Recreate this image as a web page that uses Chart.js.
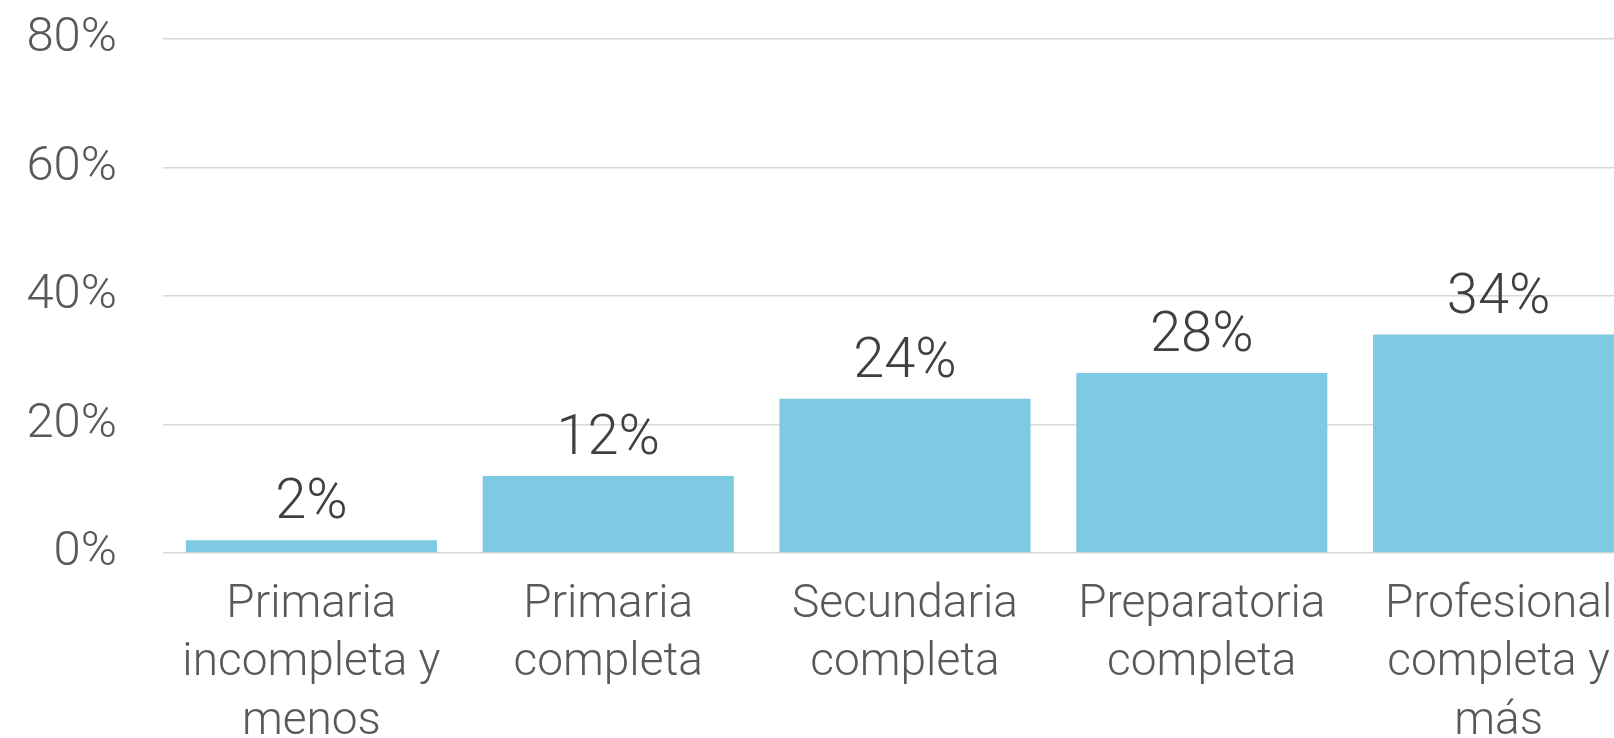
<!DOCTYPE html>
<html>
<head>
<meta charset="utf-8">
<script src="https://cdn.jsdelivr.net/npm/chart.js@4/dist/chart.umd.min.js"></script>
<style>
  html, body { margin: 0; padding: 0; background: #ffffff; overflow: hidden; }
  #wrap { position: absolute; left: 0; top: 0; width: 1647px; height: 738px; }
</style>
</head>
<body>
<div id="wrap"><canvas id="c"></canvas></div>
<script>
const categories = [
  ['Primaria', 'incompleta y', 'menos'],
  ['Primaria', 'completa'],
  ['Secundaria', 'completa'],
  ['Preparatoria', 'completa'],
  ['Profesional', 'completa y', 'más']
];
const values = [2, 12, 24, 28, 34];
const yTicks = [0, 20, 40, 60, 80];

const FONT = 'Roboto, "Liberation Sans", Arial, sans-serif';

const valueLabels = {
  id: 'valueLabels',
  afterDatasetsDraw(chart) {
    const ctx = chart.ctx;
    const meta = chart.getDatasetMeta(0);
    ctx.save();
    ctx.font = '300 56px ' + FONT;
    ctx.fillStyle = '#404040';
    ctx.textAlign = 'center';
    ctx.textBaseline = 'alphabetic';
    meta.data.forEach((el, i) => {
      ctx.fillText(values[i] + '%', el.x, el.y - 22);
    });
    ctx.restore();
  }
};

new Chart(document.getElementById('c'), {
  type: 'bar',
  data: {
    labels: categories,
    datasets: [{
      data: values,
      backgroundColor: '#7ECAE3',
      borderWidth: 0,
      categoryPercentage: 0.846,
      barPercentage: 1
    }]
  },
  options: {
    responsive: true,
    maintainAspectRatio: false,
    animation: false,
    events: [],
    layout: { padding: { top: 39, right: 0, bottom: 0, left: 0 } },
    plugins: { legend: { display: false }, tooltip: { enabled: false }, title: { display: false } },
    scales: {
      x: {
        grid: { display: false, drawTicks: false },
        border: { display: false },
        ticks: {
          color: '#595959',
          font: { family: FONT, size: 46, weight: '300', lineHeight: 1.27 },
          padding: 23,
          maxRotation: 0,
          autoSkip: false
        },
        afterFit(scale) { scale.height = 185; }
      },
      y: {
        min: 0,
        max: 80,
        afterBuildTicks(scale) { scale.ticks = yTicks.map(v => ({ value: v })); },
        grid: { color: '#D9D9D9', lineWidth: 1.5, drawTicks: false },
        border: { display: false },
        ticks: {
          color: '#595959',
          font: { family: FONT, size: 49, weight: '300' },
          padding: 46,
          callback: v => v + '%'
        },
        afterFit(scale) {
          scale.width = 163;
          scale.paddingTop = 0;
          scale.paddingBottom = 0;
        }
      }
    }
  },
  plugins: [valueLabels]
});
</script>
</body>
</html>
